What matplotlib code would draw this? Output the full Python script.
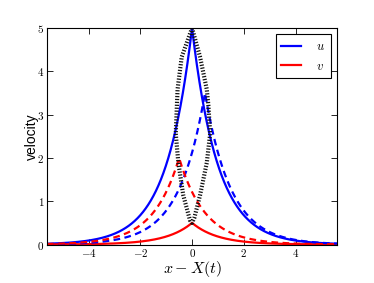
import numpy as np
import matplotlib
matplotlib.use("Agg")
import matplotlib.pyplot as plt

plt.rcParams['mathtext.fontset'] = 'cm'

# peakon parameters: (amplitude, position)
u_now = (5.0, 0.0)
v_now = (0.5, 0.0)
u_later = (3.5, 0.5)
v_later = (2.0, -0.5)

# trajectory loop of peaks
loop_x = [0.0, -0.40, -0.56, -0.63, -0.53, -0.34, -0.08, 0.0, 0.09, 0.31, 0.57, 0.70, 0.63, 0.57, 0.31, 0.0]
loop_y = [5.0, 4.33, 3.58, 2.56, 1.89, 1.14, 0.56, 0.5, 0.62, 1.14, 1.89, 2.56, 3.22, 3.58, 4.33, 5.0]

xticks = [-4, -2, 0, 2, 4]
yticks = [0, 1, 2, 3, 4, 5]

x = np.linspace(-5.6, 5.6, 2001)
def peakon(p):
    a, x0 = p
    return a * np.exp(-np.abs(x - x0))

fig = plt.figure(figsize=(3.74, 2.83), dpi=100)
ax = fig.add_axes([0.126, 0.136, 0.775, 0.765])

ax.plot(x, peakon(u_now), color='#0000ff', lw=1.6, label='$u$')
ax.plot(x, peakon(v_now), color='#ff0000', lw=1.6, label='$v$')
ax.plot(x, peakon(u_later), color='#0000ff', lw=1.6, ls=(0, (3, 2)))
ax.plot(x, peakon(v_later), color='#ff0000', lw=1.6, ls=(0, (3, 2)))
ax.plot(loop_x, loop_y, color='#111111', lw=3.0, ls=(0, (0.3, 0.4)))

ax.set_xlim(-5.6, 5.6)
ax.set_ylim(0, 5)
ax.set_xticks(xticks)
ax.set_yticks(yticks)
ax.set_xticklabels([f'${t}$' for t in xticks])
ax.set_yticklabels([f'${t}$' for t in yticks])
ax.tick_params(direction='in', top=True, right=True, labelsize=8, length=4, width=0.6, pad=2)
for s in ax.spines.values():
    s.set_linewidth(0.8)

ax.set_xlabel('$x - X(t)$', fontsize=11.5, labelpad=0)
ax.set_ylabel('velocity', fontsize=10, family='Liberation Sans', labelpad=-1)

leg = ax.legend(loc='upper right', fontsize=9, handlelength=1.6, handletextpad=1.2,
                borderpad=0.45, labelspacing=0.55, fancybox=False, framealpha=1,
                borderaxespad=0.5)
leg.get_frame().set_edgecolor('black')
leg.get_frame().set_linewidth(0.8)

fig.savefig('out.png', dpi=100)
